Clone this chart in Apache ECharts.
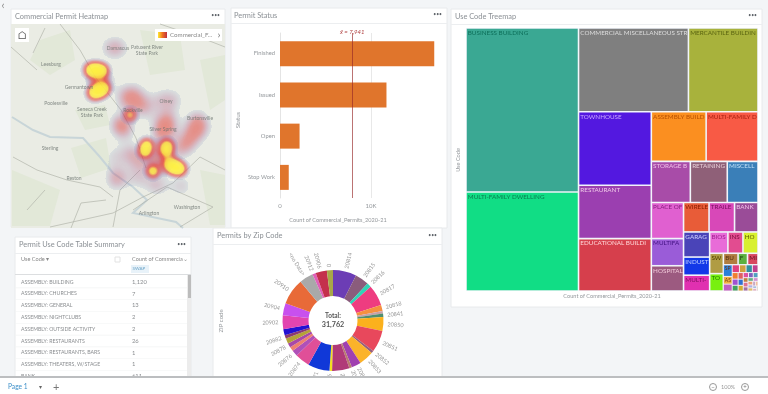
<!DOCTYPE html>
<html><head><meta charset="utf-8">
<style>html,body{margin:0;padding:0;background:#f3f5f7}#c{width:768px;height:394px;filter:blur(0.5px)}</style>
<script src="https://cdn.jsdelivr.net/npm/echarts@6/dist/echarts.min.js"></script>
</head><body><div id="c"></div>
<script>
// ---------- Permit status ----------
const statusNames = ['Finished','Issued','Open','Stop Work'];
const statusCounts = [16950,11700,2150,962];
// ---------- Zip codes ----------
const zipLabels = ['20814','20815','20816','20817','20818','20832','20841','20850','20851','20852','20853','20854','20855','20860','20866','20871','20874','20876','20877','20878','20879','20882','20901','20902','20904','20910','<no Data>','20912','20906','0'];
const zipCounts = [2391,1411,441,2117,618,265,353,1411,2205,265,1499,970,265,1764,265,2205,1499,617,441,441,529,353,617,1411,1235,2646,1411,353,1147,617];
const zipColors = ['#6c3db5','#8a5c7c','#2fd3b6','#ee3c80','#f59040','#c9a0a8','#4f8f70','#fbb11d','#e8485c','#96607c','#fbb32a','#a040b0','#b87c70','#b03a78','#f2e020','#1038d8','#e04f98','#b050b8','#ee8070','#a848a8','#b4a238','#8c3a70','#2410d2','#e244b0','#c850ee','#e86a38','#a9a9a9','#e060b8','#c4304c','#a8a848'];
// ---------- Use code treemap ----------
const useCodeNames = ['BUSINESS BUILDING','MULTI-FAMILY DWELLING','COMMERCIAL MISCELLANEOUS STRUCTURE','MERCANTILE BUILDING','TOWNHOUSE','RESTAURANT','EDUCATIONAL BUILDING','ASSEMBLY BUILDING','MULTI-FAMILY DWELLING','STORAGE BUILDING','RETAINING WALL','MISCELLANEOUS','PLACE OF WORSHIP','WIRELESS','TRAILER','BANK','MULTIFAMILY','HOSPITAL','GARAGE','INDUSTRIAL','MULTI-TENANT','BIOSCIENCE','INSTITUTIONAL','HOTEL','SWIMMING','BUSINESS','FENCE','MIXED','TOWER','SPA'];
const useCodeCounts = [7597,4586,3787,2397,2204,1600,1570,1120,1060,660,625,520,480,310,310,285,360,335,270,195,170,160,132,132,115,70,45,50,98,40];
const useCodeColors = ['#3aa893','#11dd85','#7f7f7f','#a8b23c','#5318e0','#9b3fb0','#d63f4c','#fb8f20','#f85a45','#a84ca8','#8f6078','#3a7fb8','#e060d0','#e85c38','#d848b8','#9a4c98','#9a5cd8','#9c5a80','#4a44b8','#1238e8','#e030b0','#e86cd8','#e24c90','#d8f030','#b09c44','#b07c40','#5cb040','#d84860','#78f010','#2a80d8'];
const useCodeInk = ['#0d6f5a','#0a7c50','#dddddd','#5a6410','#c8a8ff','#f0c8e8','#ffd8d8','#b85000','#a82010','#f0c0e8','#e8d0d8','#c0e0f8','#8a2080','#8a2000','#7a1060','#f0c0e8','#401080','#f0c8d8','#d0d0ff','#c0d0ff','#801060','#a02090','#801040','#606000','#504000','#503010','#204010','#601020','#208000','#c0e0ff'];
const tinyCounts = [42,28,25,23,21,20,18,16,15,14,14,13,12,11,10,10,9,9,8,8,7,7,6,6,5,5,4,4,3];
const tinyNames = ['SP','AS','','','','','','','','','','','','','','','','','','','','','','','','','','',''];
const tinyColors = ['#2a80d8','#f0b040','#c060c0','#e04080','#d0a040','#3090a0','#c04090','#f08030','#a050d0','#40a060','#e06060','#3070d0','#d0b030','#e050a0','#8060c0','#50a0c0','#c08040','#e07090','#a070a0','#60b080','#d090d0','#f0a070','#b0b0e0','#e0c060','#c0a0c0','#f0c0a0','#a0c0e0','#e0b0c0','#d0d0b0'];
// Groups the treemap is nested by, outermost first (indices into the lists above)
const useCodeGroups = [[0,1],[2,3],[4,5,6],[7,8],[9,10,11],[12,16,17],[13,14,15],[18,19,20],[21,22,23],[24,28],[25,26,27]];
// ---------- Table ----------
const tableCodes = ['ASSEMBLY: BUILDING','ASSEMBLY: CHURCHES','ASSEMBLY: GENERAL','ASSEMBLY: NIGHTCLUBS','ASSEMBLY: OUTSIDE ACTIVITY','ASSEMBLY: RESTAURANTS','ASSEMBLY: RESTAURANTS, BARS','ASSEMBLY: THEATERS, W/STAGE','BANK'];
const tableCounts = ['1,120','7','13','2','2','26','1','1','611'];
// ---------- Heat map (map units) ----------
const heatHot = [[80,158,.95],[85,157,1],[91,157,1],[83,135,.95],[88,138,1],[93,140,.9],[119,113,.85],[134,76,.95],[136,83,.9],[155,77,.95],[156,83,.85],[158,64,.9],[163,61,1],[169,59,.95],[142,57,1]];
const heatHaze = [[114,133,.3],[124,135,.3],[118,125,.3],[130,125,.3],[134,118,.28],[110,105,.42],[112,98,.38],[106,47,.3],[106,53,.28],[156,110,.36],[150,128,.3],[162,128,.3],[156,100,.42],[186,108,.4],[182,95,.42],[176,85,.42],[190,100,.3],[120,75,.35],[104,71,.25],[40,122,.18],[146,43,.38],[128,50,.32],[170,42,.3],[150,100,.28],[78,120,.16],[100,180,.3],[108,180,.28],[86,148,.45],[92,148,.4],[145,68,.45],[152,68,.45],[128,66,.35],[150,88,.3],[168,78,.3]];
const mapPlaceNames = ['Damascus','Patuxent River\nState Park','Leesburg','Germantown','Poolesville','Seneca Creek\nState Park','Rockville','Olney','Silver Spring','Burtonsville','Sterling','Reston','Washington','Arlington'];
const mapPlaceXY = [[107,180],[136,178],[40,164],[68,141],[45,125],[81,116],[122,118],[155,127],[152,99],[189,110],[39,80],[63,50],[176,21],[138,15]];
const mapRoads = [[[49,204],[69,178],[85,150],[110,118],[125,90],[135,60]],[[2,71],[26,58],[56,48],[89,41],[102,31]],[[102,1],[109,38],[129,58]],[[39,1],[102,15],[132,31],[162,45],[189,71],[214,58]],[[122,18],[156,41],[202,21],[169,1]],[[0,181],[26,158]],[[22,175],[34,200]],[[149,204],[196,188],[214,181]],[[16,18],[34,38]],[[60,0],[70,25],[95,28]]];
const mapRiver = [[1,111],[22,98],[39,91],[72,90],[89,71],[102,55],[122,41],[136,28],[122,15],[165,6],[172,0]];
const mapParks = [[[29,188],[59,198],[64,168],[39,153],[19,168]],[[129,198],[169,193],[174,158],[139,153]],[[189,168],[214,173],[214,128],[199,118]],[[64,118],[94,123],[99,103],[74,98]],[[1,58],[49,38],[39,2],[1,2]],[[189,58],[214,53],[214,3],[199,3]],[[60,80],[95,90],[100,60],[70,50]]];
// ---------- Text ----------
const panelTitles = ['Commercial Permit Heatmap','Permit Status','Use Code Treemap','Permit Use Code Table Summary','Permits by Zip Code'];
const measureName = 'Count of Commercial_Permits_2020-21';

const FONT = 'Lato, "Open Sans", sans-serif';
const GREY = '#94989c';

// geojson base map
const features = [{type:'Feature',properties:{name:'land'},geometry:{type:'Polygon',coordinates:[[[0,0],[214,0],[214,204],[0,204],[0,0]]]}}];
mapParks.forEach((p,i)=>features.push({type:'Feature',properties:{name:'park'+i},geometry:{type:'Polygon',coordinates:[[...p,p[0]]]}}));
echarts.registerMap('county',{type:'FeatureCollection',features});

// treemap data
function leaf(n){
  return {name:useCodeNames[n],value:useCodeCounts[n],itemStyle:{color:useCodeColors[n],borderColor:'#eef2f8',borderWidth:.8},label:{color:useCodeInk[n]}};
}
function sumNode(children){
  return {name:'',value:children.reduce((s,c)=>s+c.value,0),children};
}
const tinyNode = sumNode(tinyCounts.map((v,i)=>({name:tinyNames[i],value:v,itemStyle:{color:tinyColors[i],borderColor:'#f2e8f0',borderWidth:.5},label:{color:'#703010',fontSize:5}}))) ;
let nested = tinyNode;
for(let i=useCodeGroups.length-1;i>=0;i--){
  nested = sumNode([sumNode(useCodeGroups[i].map(leaf)),nested]);
}
const treeData = nested.children;

// panels / chrome
const g = [];
function rect(x,y,w,h,fill,z,stroke){
  g.push({type:'rect',silent:true,z:z||-1,shape:{x,y,width:w,height:h},style:{fill,stroke:stroke||null,lineWidth:stroke?1:0}});
}
function text(x,y,t,o){
  o=o||{};
  g.push({type:'text',silent:true,z:o.z||-1,x,y,rotation:o.rot||0,style:{text:t,fill:o.color||GREY,font:(o.size||9)+'px '+FONT,align:o.align||'left',verticalAlign:'middle'}});
}
function panel(x,y,w,h,i,titleH,tx){
  rect(x,y,w,h,'#ffffff',-2,'#e8eaec');
  rect(x,y+titleH,w,1,'#eceef0',-1);
  text(tx,y+titleH/2,panelTitles[i],{size:7.4,color:'#8b9095'});
  text(x+w-5,y+titleH/2-1,'•••',{align:'right',size:5,color:'#5f646a'});
}
panel(11,9,214,218,0,15,15);
panel(231,8,216,220,1,15,234);
panel(451,9,311,298,2,15,455);
panel(15,237,176,145,3,16,19);
panel(213,228,229,150,4,16,217);
// chevron
text(3,5,'‹',{size:11,color:'#888',align:'center'});

// map widgets (above the map)
rect(15,28,14,14,'#ffffff',20);
text(22,35,'⌂',{size:11,color:'#555',align:'center',z:21});
rect(155,29,67,12,'#ffffff',20);
g.push({type:'rect',silent:true,z:21,shape:{x:158,y:32,width:9,height:6},style:{fill:new echarts.graphic.LinearGradient(0,0,1,0,[{offset:0,color:'#ffe930'},{offset:.5,color:'#ef7020'},{offset:1,color:'#c03040'}])}});
text(170,35,'Commercial_F...',{size:6.2,color:'#888',z:21});
text(219,35,'›',{size:9,color:'#555',align:'center',z:21});

// axis text
text(338,220,measureName,{size:5.6,color:GREY,align:'center'});
text(238,120,'Status',{size:6,color:GREY,align:'center',rot:Math.PI/2});
text(612,296,measureName,{size:5.6,color:GREY,align:'center'});
text(458,160,'Use Code',{size:5.6,color:GREY,align:'center',rot:Math.PI/2});
text(221,321,'ZIP code',{size:6,color:GREY,align:'center',rot:Math.PI/2});

// table
text(21,259,'Use Code ▾',{size:5.6,color:'#888'});
rect(115,257,5,5,'#ffffff',-1,'#e2e2e2');
text(132,259,'Count of Commercia',{size:5.6,color:'#888'});
text(188,259,'⌄',{size:6,color:'#999',align:'right'});
rect(131,265,18,8,'#e8f2f9',-1);
text(132.5,269,'SWAP',{size:4.5,color:'#6aa4c8'});
rect(15,274,176,1,'#dcdee0',-1);
tableCodes.forEach((c,i)=>{
  const y=282+i*11.8;
  text(21,y,c,{size:5.2,color:'#8a8d90'});
  text(132,y,tableCounts[i],{size:5.8,color:'#8a8d90'});
  rect(15,y+5.6,172,.6,'#f2f3f4',-1);
});
rect(187,275,4,102,'#ececec',-1);
rect(188,275,3,23,'#bcbcbc',-1);

// footer
rect(0,378,768,16,'#ffffff',100);
rect(0,376,768,2,'#bcbec0',100);
text(8,387,'Page 1',{size:6.6,color:'#3a8ec8',z:101});
text(39,387,'▾',{size:6,color:'#666',z:101});
text(53,387,'+',{size:11,color:'#777',z:101});
g.push({type:'circle',silent:true,z:101,shape:{cx:713,cy:387,r:3.5},style:{fill:'#fff',stroke:'#999',lineWidth:1}});
text(713,387,'−',{size:6,color:'#777',align:'center',z:102});
text(728,387,'100%',{size:5.6,color:'#999',align:'center',z:101});
g.push({type:'circle',silent:true,z:101,shape:{cx:745,cy:387,r:3.5},style:{fill:'#fff',stroke:'#999',lineWidth:1}});
text(745,387,'+',{size:6,color:'#777',align:'center',z:102});

const total = zipCounts.reduce((a,b)=>a+b,0);
const mean = statusCounts.reduce((a,b)=>a+b,0)/statusCounts.length;

const chart = echarts.init(document.getElementById('c'),null,{renderer:'canvas',width:768,height:394});
chart.setOption({
  animation:false,
  backgroundColor:'#f3f5f7',
  textStyle:{fontFamily:FONT},
  graphic:{elements:g},
  geo:{map:'county',left:11,top:24,width:214,height:204,aspectScale:1,silent:true,roam:false,label:{show:false},
    itemStyle:{areaColor:'#eaece4',borderWidth:0},
    emphasis:{disabled:true},
    regions:mapParks.map((p,i)=>({name:'park'+i,itemStyle:{areaColor:'#e2e8d8',borderWidth:0}}))},
  visualMap:{show:false,seriesIndex:[0,1],min:0,max:1,calculable:false,
    inRange:{color:['rgba(130,150,190,0)','rgba(130,150,195,.5)','rgba(165,85,140,.8)','#d82c30','#e83a28','#ffdf2c','#fff03a','#fff03a']}},
  grid:{left:280,top:33,width:154.7,height:165,containLabel:false},
  xAxis:{type:'value',min:0,max:17000,interval:10000,
    axisLine:{show:false},axisTick:{show:false},axisLabel:{fontSize:6,color:GREY,margin:5,showMaxLabel:false,formatter:v=>v===0?'0':(v/1000)+'K'},
    splitLine:{show:true,showMaxLine:false,lineStyle:{color:'#e8e8e8',width:1}}},
  yAxis:{type:'category',inverse:true,data:statusNames,
    axisLine:{show:true,lineStyle:{color:'#e4e4e4'}},axisTick:{show:false},axisLabel:{fontSize:5.8,color:GREY,margin:5}},
  series:[
    {type:'heatmap',coordinateSystem:'geo',data:heatHaze,pointSize:10,blurSize:13,minOpacity:0,maxOpacity:1,z:3,silent:true},
    {type:'heatmap',coordinateSystem:'geo',data:heatHot,pointSize:7.5,blurSize:8,minOpacity:0,maxOpacity:1,z:3,silent:true},
    {type:'lines',coordinateSystem:'geo',polyline:true,silent:true,z:1,data:[{coords:mapRiver}],lineStyle:{color:'#c8d5d8',width:2,opacity:1}},
    {type:'lines',coordinateSystem:'geo',polyline:true,silent:true,z:2,data:mapRoads.map(r=>({coords:r})),lineStyle:{color:'#b2b5aa',width:.7,opacity:1}},
    {type:'scatter',coordinateSystem:'geo',silent:true,z:4,symbolSize:0,data:mapPlaceNames.map((n,i)=>({name:n,value:mapPlaceXY[i]})),
      label:{show:true,position:'inside',formatter:'{b}',fontSize:5,color:'#6a726e',lineHeight:6}},
    {type:'bar',data:statusCounts,barWidth:25,itemStyle:{color:'#e0752c'},silent:true,z:3,
      markLine:{silent:true,symbol:'none',z:5,data:[{xAxis:mean}],lineStyle:{color:'rgba(150,40,40,.65)',width:1,type:'solid'},
        label:{position:'start',distance:-2,fontSize:6,fontStyle:'italic',color:'#b04040',formatter:'x̄ = '+Math.round(mean).toLocaleString('en-US')}}},
    {type:'treemap',left:466,top:28,width:292,height:263,roam:false,nodeClick:false,breadcrumb:{show:false},silent:true,sort:false,squareRatio:1,visibleMin:0,z:3,
      itemStyle:{borderWidth:0,gapWidth:0},
      label:{show:true,position:'insideTopLeft',distance:1,padding:0,fontSize:6.3,overflow:'truncate',ellipsis:'',fontFamily:FONT},
      data:treeData},
    {type:'pie',center:[333,320.5],radius:[24.5,50.5],startAngle:90,avoidLabelOverlap:false,silent:true,z:3,
      data:zipLabels.map((n,i)=>({name:n,value:zipCounts[i],itemStyle:{color:zipColors[i]}})),
      label:{show:true,position:'outside',rotate:'radial',fontSize:5.6,color:'#969696',distanceToLabelLine:1},
      labelLine:{show:false,length:3,length2:0}},
  ],
  title:[
    {text:'Total:',left:333,top:316,textAlign:'center',textVerticalAlign:'middle',padding:0,z:6,textStyle:{fontSize:6.5,fontWeight:'bold',color:'#555',fontFamily:FONT}},
    {text:total.toLocaleString('en-US'),left:333,top:325,textAlign:'center',textVerticalAlign:'middle',padding:0,z:6,textStyle:{fontSize:7.2,fontWeight:'bold',color:'#555',fontFamily:FONT}}
  ]
});
</script></body></html>
